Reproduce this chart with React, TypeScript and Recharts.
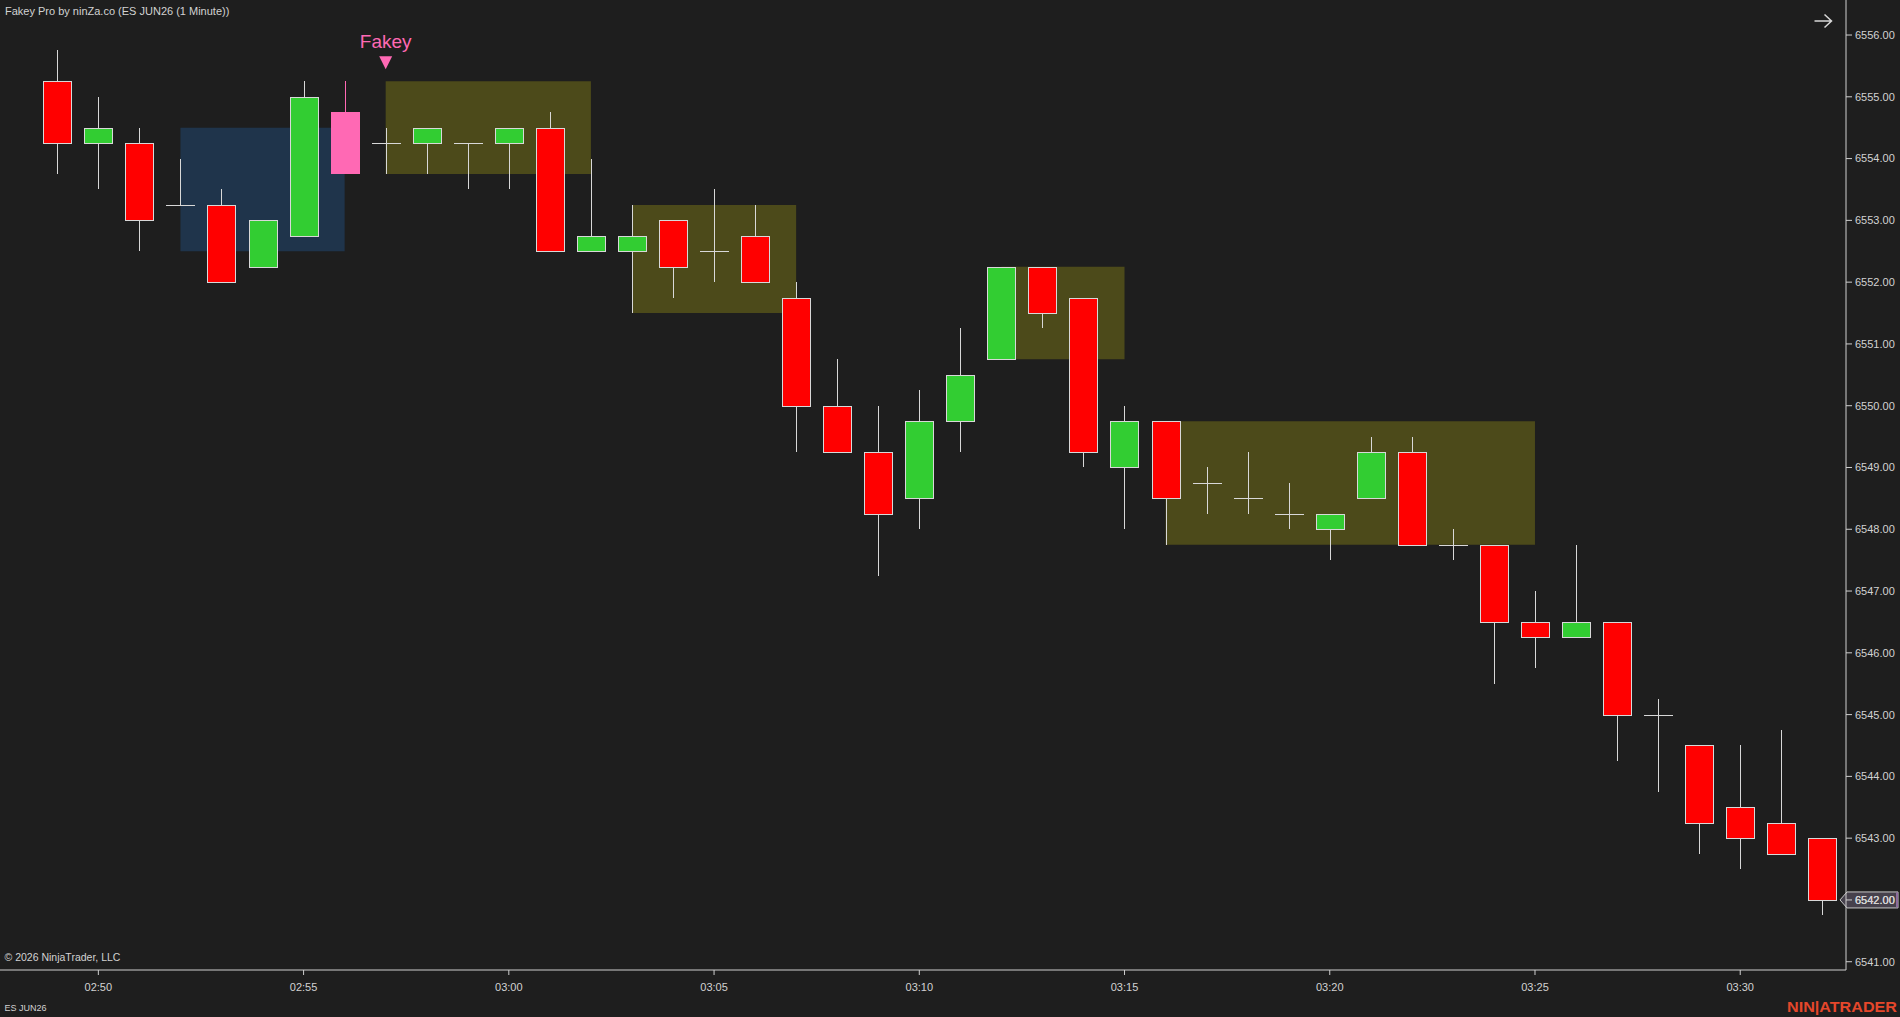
import React from 'react';
import { ComposedChart, Bar, XAxis, YAxis, ReferenceArea, ReferenceDot, ReferenceLine } from 'recharts';

// ---- Data (ES JUN26, 1 minute) ----
const times = ['02:49','02:50','02:51','02:52','02:53','02:54','02:55','02:56','02:57','02:58','02:59','03:00','03:01','03:02','03:03','03:04','03:05','03:06','03:07','03:08','03:09','03:10','03:11','03:12','03:13','03:14','03:15','03:16','03:17','03:18','03:19','03:20','03:21','03:22','03:23','03:24','03:25','03:26','03:27','03:28','03:29','03:30','03:31','03:32'];
const opens = [6555.25,6554.25,6554.25,6553.25,6553.25,6552.25,6552.75,6554.75,6554.25,6554.25,6554.25,6554.25,6554.5,6552.5,6552.5,6553.0,6552.5,6552.75,6551.75,6550.0,6549.25,6548.5,6549.75,6550.75,6552.25,6551.75,6549.0,6549.75,6548.75,6548.5,6548.25,6548.0,6548.5,6549.25,6547.75,6547.75,6546.5,6546.25,6546.5,6545.0,6544.5,6543.5,6543.25,6543.0];
const highs = [6555.75,6555.0,6554.5,6554.0,6553.5,6553.0,6555.25,6555.25,6554.5,6554.5,6554.25,6554.5,6554.75,6554.0,6553.25,6553.0,6553.5,6553.25,6552.0,6550.75,6550.0,6550.25,6551.25,6552.25,6552.25,6551.75,6550.0,6549.75,6549.0,6549.25,6548.75,6548.25,6549.5,6549.5,6548.0,6547.75,6547.0,6547.75,6546.5,6545.25,6544.5,6544.5,6544.75,6543.0];
const lows = [6553.75,6553.5,6552.5,6553.25,6552.0,6552.25,6552.75,6553.75,6553.75,6553.75,6553.5,6553.5,6552.5,6552.5,6551.5,6551.75,6552.0,6552.0,6549.25,6549.25,6547.25,6548.0,6549.25,6550.75,6551.25,6549.0,6548.0,6547.75,6548.25,6548.25,6548.0,6547.5,6548.5,6547.75,6547.5,6545.5,6545.75,6546.25,6544.25,6543.75,6542.75,6542.5,6542.75,6541.75];
const closes = [6554.25,6554.5,6553.0,6553.25,6552.0,6553.0,6555.0,6553.75,6554.25,6554.5,6554.25,6554.5,6552.5,6552.75,6552.75,6552.25,6552.5,6552.0,6550.0,6549.25,6548.25,6549.75,6550.5,6552.25,6551.5,6549.25,6549.75,6548.5,6548.75,6548.5,6548.25,6548.25,6549.25,6547.75,6547.75,6546.5,6546.25,6546.5,6545.0,6545.0,6543.25,6543.0,6542.75,6542.0];

// Fakey indicator output
const fakeyBarTime = '02:56';
const fakeySignalTime = '02:57';
const fakeyMarkerPrice = 6555.55;
const motherZoneStart = ['02:52'];
const motherZoneEnd = ['02:56'];
const motherZoneHigh = [6554.5];
const motherZoneLow = [6552.5];
const zoneStart = ['02:57', '03:03', '03:12', '03:16'];
const zoneEnd = ['03:02', '03:07', '03:15', '03:25'];
const zoneHigh = [6555.25, 6553.25, 6552.25, 6549.75];
const zoneLow = [6553.75, 6551.5, 6550.75, 6547.75];

// Axis ticks
const priceTicks = [6541,6542,6543,6544,6545,6546,6547,6548,6549,6550,6551,6552,6553,6554,6555,6556];
const timeTickLabels = ['02:50','02:55','03:00','03:05','03:10','03:15','03:20','03:25','03:30'];
const priceDomain = [6540.866, 6556.567];
const barDomain = [-0.396, 44.577];

const data = times.map((t, i) => ({
  n: i + 1,
  time: t,
  open: opens[i],
  high: highs[i],
  low: lows[i],
  close: closes[i],
}));
const idx = (t: string) => times.indexOf(t) + 1;

const BG = '#1e1e1e';
const AXIS = '#cfcfcf';
const TEXT = '#d2d2d2';
const OUTLINE = '#d8d8d8';
const UP = '#32cd32';
const DOWN = '#ff0000';
const FAKEY = '#ff69b4';
const FONT = '"Liberation Sans", Arial, sans-serif';

const CandleShape = (props: any) => {
  const { x, y, width, height, payload } = props;
  if (payload == null || x == null) return null;
  const top = Math.min(y, y + height);
  const bot = Math.max(y, y + height);
  const { open, high, low, close, time } = payload;
  const span = high - low;
  const px = (p: number) => (span === 0 ? top : top + ((high - p) / span) * (bot - top));
  const c = Math.floor(x + width / 2) + 0.5;
  const isFakey = time === fakeyBarTime;
  const wickColor = isFakey ? FAKEY : OUTLINE;
  const bTop = px(Math.max(open, close));
  const bBot = px(Math.min(open, close));
  const half = 14;
  return (
    <g shapeRendering="crispEdges">
      <line x1={c} x2={c} y1={px(high)} y2={px(low)} stroke={wickColor} strokeWidth={1} />
      {open === close ? (
        <line x1={c - half - 0.5} x2={c + half + 0.5} y1={Math.round(bTop) + 0.5} y2={Math.round(bTop) + 0.5} stroke={OUTLINE} strokeWidth={1} />
      ) : isFakey ? (
        <rect x={c - half - 0.5} y={bTop} width={half * 2 + 1} height={bBot - bTop} fill={FAKEY} />
      ) : (
        <rect x={c - half} y={Math.round(bTop) + 0.5} width={half * 2} height={Math.round(bBot) - Math.round(bTop)} fill={close > open ? UP : DOWN} stroke={OUTLINE} strokeWidth={1} />
      )}
    </g>
  );
};

const FakeyMarker = (props: any) => {
  const { cx, cy } = props;
  if (cx == null) return null;
  return (
    <g>
      <polygon points={`${cx - 6.5},${cy - 6.5} ${cx + 6.5},${cy - 6.5} ${cx},${cy + 6.5}`} fill={FAKEY} />
      <text x={cx} y={cy - 14.5} textAnchor="middle" fill={FAKEY} fontSize={19} fontFamily={FONT}>Fakey</text>
    </g>
  );
};

const PriceTag = (props: any) => {
  const vb = props.viewBox || {};
  const ax = Math.max(vb.x, vb.x + vb.width);
  const yy = vb.y;
  if (ax == null || yy == null || isNaN(ax)) return null;
  const value = props.value as number;
  return (
    <g>
      <polygon
        points={`${ax - 6},${yy} ${ax + 1},${yy - 8} ${ax + 52},${yy - 8} ${ax + 52},${yy + 8} ${ax + 1},${yy + 8}`}
        fill="#46414c"
        stroke="#c8c8c8"
        strokeWidth={1}
      />
      <rect x={ax + 50} y={yy - 7.5} width={2} height={15} fill="#8c6c9c" />
      <text x={ax + 9} y={yy} dominantBaseline="central" fill="#f2f2f2" fontSize={11} fontFamily={FONT}>{value.toFixed(2)}</text>
    </g>
  );
};

export default function App() {
  const last = closes[closes.length - 1];
  return (
    <div style={{ position: 'fixed', left: 0, top: 0, width: 1900, height: 1017, background: BG, overflow: 'hidden' }}>
      <ComposedChart width={1900} height={1017} data={data} margin={{ top: 0, right: 0, bottom: 0, left: 0 }}>
        <XAxis
          dataKey="n"
          type="number"
          domain={barDomain}
          allowDataOverflow
          ticks={timeTickLabels.map(idx)}
          tickFormatter={(v: number) => times[v - 1]}
          height={47}
          tickSize={5}
          tickMargin={8}
          axisLine={{ stroke: AXIS }}
          tickLine={{ stroke: AXIS }}
          tick={{ fill: TEXT, fontSize: 11, fontFamily: FONT }}
        />
        <YAxis
          orientation="right"
          type="number"
          domain={priceDomain}
          allowDataOverflow
          ticks={priceTicks}
          tickFormatter={(v: number) => v.toFixed(2)}
          width={54}
          tickSize={6}
          tickMargin={3}
          axisLine={{ stroke: AXIS }}
          tickLine={{ stroke: AXIS }}
          tick={{ fill: TEXT, fontSize: 11, fontFamily: FONT }}
        />
        {motherZoneStart.map((s, i) => (
          <ReferenceArea key={'m' + i} x1={idx(s)} x2={idx(motherZoneEnd[i])} y1={motherZoneLow[i]} y2={motherZoneHigh[i]} fill="#1f344b" fillOpacity={1} stroke="none" />
        ))}
        {zoneStart.map((s, i) => (
          <ReferenceArea key={'z' + i} x1={idx(s)} x2={idx(zoneEnd[i])} y1={zoneLow[i]} y2={zoneHigh[i]} fill="#4c4a1a" fillOpacity={1} stroke="none" />
        ))}
        <Bar dataKey={(d: any) => [d.low, d.high]} shape={CandleShape} barSize={28} isAnimationActive={false} />
        <ReferenceDot x={idx(fakeySignalTime)} y={fakeyMarkerPrice} r={0} shape={FakeyMarker} />
        <ReferenceLine y={last} stroke="none" label={(p: any) => <PriceTag {...p} value={last} />} />
      </ComposedChart>
      <svg width={1900} height={1017} style={{ position: 'absolute', left: 0, top: 0, pointerEvents: 'none' }}>
        <text x={5} y={15} fill={TEXT} fontSize={11} fontFamily={FONT}>Fakey Pro by ninZa.co (ES JUN26 (1 Minute))</text>
        <text x={4.5} y={961} fill={TEXT} fontSize={10.5} fontFamily={FONT}>© 2026 NinjaTrader, LLC</text>
        <text x={4.5} y={1011} fill={TEXT} fontSize={9} fontFamily={FONT}>ES JUN26</text>
        <text x={1787} y={1011.5} fill="#e5472b" fontSize={15} fontWeight="bold" fontFamily={FONT} textLength={110} lengthAdjust="spacingAndGlyphs">NIN|ATRADER</text>
        <path d="M1814.5 21 H1831.5 M1824.5 14.5 L1831.5 21 L1824.5 27.5" stroke="#d8d8d8" strokeWidth={1.5} fill="none" />
      </svg>
    </div>
  );
}
